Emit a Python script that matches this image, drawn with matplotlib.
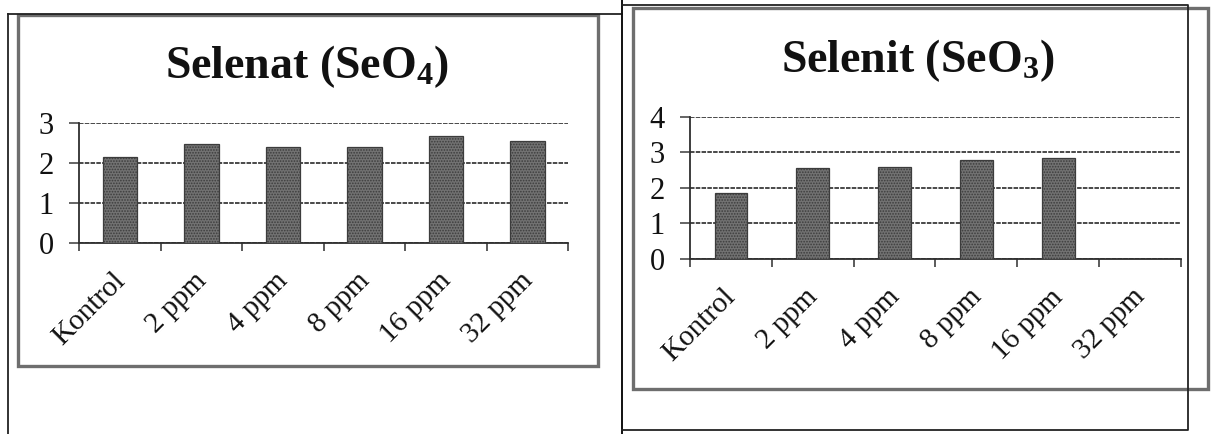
import numpy as np
import matplotlib
matplotlib.use("Agg")
import matplotlib.pyplot as plt
from matplotlib.patches import Rectangle
from matplotlib.lines import Line2D
from matplotlib.transforms import ScaledTranslation

# ---- data -------------------------------------------------------------
categories = ["Kontrol", "2 ppm", "4 ppm", "8 ppm", "16 ppm", "32 ppm"]
selenat = [2.16, 2.48, 2.41, 2.40, 2.68, 2.55]
selenit = [1.85, 2.57, 2.58, 2.78, 2.85, np.nan]   # no value for 32 ppm
selenat_yticks = [0, 1, 2, 3]
selenit_yticks = [0, 1, 2, 3, 4]
selenat_title = r"Selenat (SeO$_4$)"
selenit_title = r"Selenit (SeO$_3$)"

# ---- style ------------------------------------------------------------
W, H = 1212, 434
plt.rcParams["font.family"] = ["Liberation Serif", "DejaVu Serif"]
plt.rcParams["mathtext.default"] = "regular"
plt.rcParams["hatch.linewidth"] = 0.8

BAR_FACE = "#727272"
BAR_EDGE = "#3c3c3c"
GRID = "#3a3a3a"
FRAME = "#6e6e6e"
INK = "#111111"

fig = plt.figure(figsize=(W / 100, H / 100), dpi=100)
fig.patch.set_facecolor("white")


def fx(px):
    return px / W


def fy(py):
    return 1 - py / H


def frame_box(x0, y0, x1, y1, **kw):
    fig.add_artist(Rectangle((fx(x0), fy(y1)), fx(x1) - fx(x0), fy(y0) - fy(y1),
                             transform=fig.transFigure, fill=False, **kw))


def rule(xs, ys, **kw):
    fig.add_artist(Line2D([fx(x) for x in xs], [fy(y) for y in ys],
                          transform=fig.transFigure, **kw))


def panel(x0, x1, y_zero, y_top, values, yticks, title, title_x, title_base, bar_w):
    ax = fig.add_axes([fx(x0), fy(y_zero), fx(x1) - fx(x0), fy(y_top) - fy(y_zero)])
    pos = np.arange(len(categories))
    ax.bar(pos, values, width=bar_w, color=BAR_FACE, edgecolor=BAR_EDGE,
           linewidth=0.9, hatch="......", zorder=3)
    ax.set_xlim(-0.5, len(categories) - 0.5)
    ax.set_ylim(yticks[0], yticks[-1])
    ax.set_yticks(yticks)
    ax.set_yticklabels([str(t) for t in yticks])
    ax.yaxis.grid(True, color=GRID, linewidth=1.3, linestyle=(0, (2.5, 0.7)), zorder=1)
    ax.set_axisbelow(True)

    for side in ("top", "right"):
        ax.spines[side].set_visible(False)
    for side in ("left", "bottom"):
        ax.spines[side].set_color("#2e2e2e")
        ax.spines[side].set_linewidth(1.3)

    ax.tick_params(axis="y", direction="out", length=7.2, width=1.1, color=GRID,
                   pad=11, labelsize=22, labelcolor=INK)
    ax.set_xticks(pos)
    ax.set_xticklabels(categories, rotation=45, ha="right", va="top")
    ax.set_xticks(np.arange(-0.5, len(categories), 1.0), minor=True)
    ax.tick_params(axis="x", which="major", length=0, pad=18, labelsize=21, labelcolor=INK)
    ax.tick_params(axis="x", which="minor", direction="out", length=5.5, width=1.1,
                   color="#2e2e2e")
    shift = ScaledTranslation(10 / 100, 0, fig.dpi_scale_trans)
    for lab in ax.get_xticklabels():
        lab.set_transform(lab.get_transform() + shift)

    fig.text(fx(title_x), fy(title_base), title, ha="center", va="baseline",
             fontsize=33, fontweight="bold", color=INK)
    return ax


# ---- page rules and chart frames --------------------------------------
rule([8, 8], [14, 434], color="#222222", linewidth=1.3)
rule([8, 622], [14, 14], color="#222222", linewidth=1.3)
rule([622, 622], [0, 434], color="#111111", linewidth=1.4)
rule([622, 1188, 1188, 622], [5, 5, 430, 430], color="#222222", linewidth=1.3)

frame_box(18, 15, 598, 366, edgecolor=FRAME, linewidth=2.4)
frame_box(633, 8, 1208, 389, edgecolor=FRAME, linewidth=2.4)

# ---- charts -----------------------------------------------------------
panel(79.3, 568.3, 242.7, 123.3, selenat, selenat_yticks, selenat_title,
      307, 78, 0.42)
panel(690, 1181, 259, 116.7, selenit, selenit_yticks, selenit_title,
      918, 72, 0.40)

fig.savefig("out.png", dpi=100, facecolor="white")
